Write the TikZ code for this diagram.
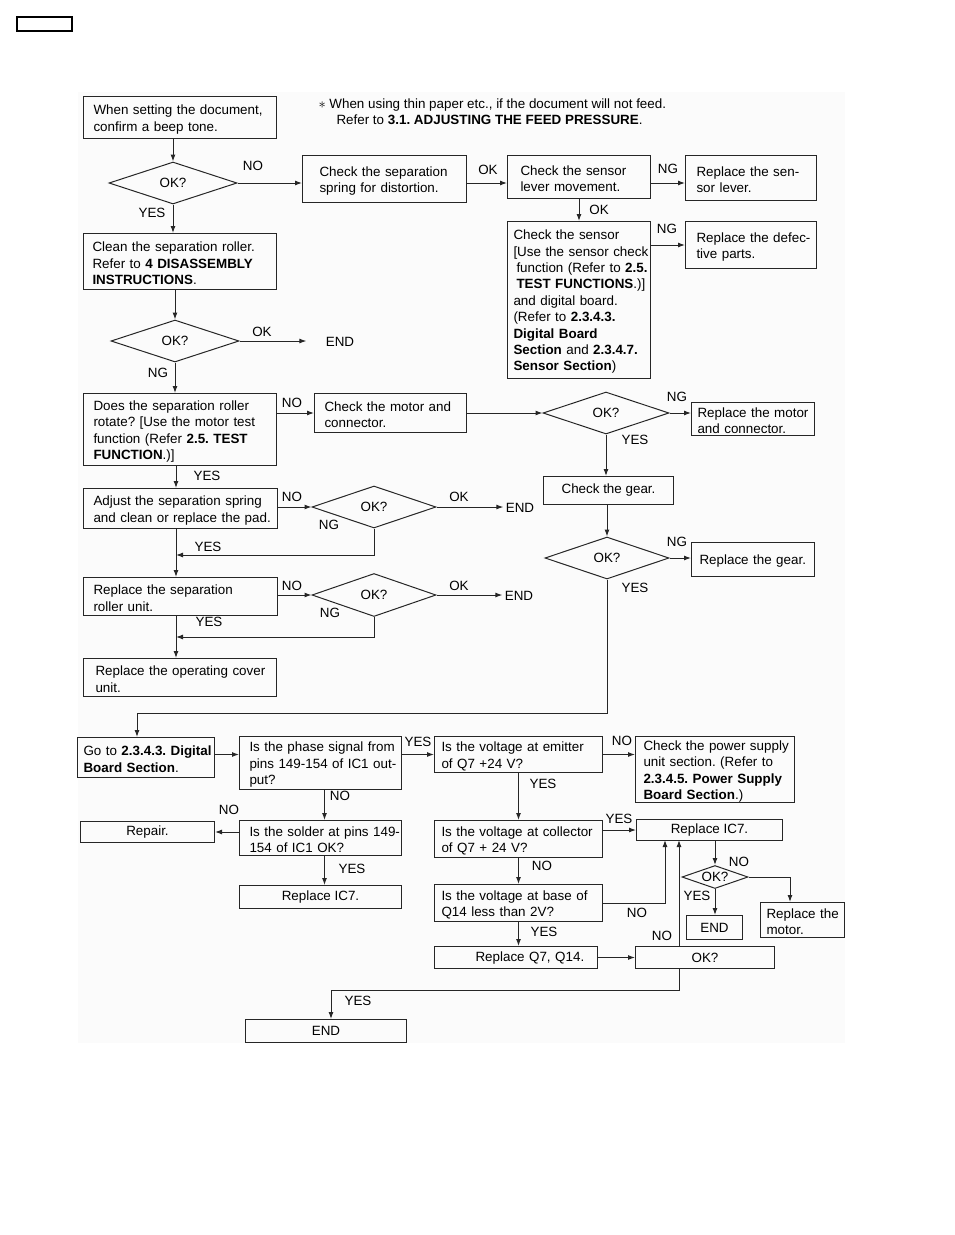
\documentclass[tikz,border=0pt]{standalone}
\usepackage{fontspec}
\setmainfont{Liberation Sans}
\usetikzlibrary{arrows.meta,calc,positioning,shapes.geometric}
\newcommand{\fs}{\fontsize{13.4}{16.4}\selectfont}
\frenchspacing
\tikzset{%
	proc/.style     = {draw=black!85, rectangle, anchor=north west, align=left, inner xsep=0pt, inner ysep=0pt, text height=13.5pt, execute at begin node={\leftskip=#1\rightskip=0pt plus 1fil\relax}},
	proc/.default   = 10pt,
	ctr/.style      = {draw=black!85, rectangle, anchor=north west, align=center, inner sep=0pt},
	decision/.style = {draw=black!85, diamond, aspect=3, inner sep=0pt},
	arrow/.style    = {draw=black!85, -{Latex[length=7pt,width=5pt]}},
	lab/.style      = {inner sep=0pt},
}

\begin{document}
\begin{tikzpicture}[x=1pt,y=-1pt,line width=1pt,every node/.style={font=\fs}]
	\useasboundingbox (0,0) rectangle (954,1235);
	\fill[black!1.5] (78,92) rectangle (845,1043);
	\draw[line width=1.3pt] (17,17) rectangle (72,31);
	\node[lab,anchor=base west] (note1) at (318,108) {$\ast$ When using thin paper etc., if the document will not feed.};
	\node[lab,anchor=base west] (note2) at (336,124) {Refer to \textbf{3.1. ADJUSTING THE FEED PRESSURE}.};

	% upper part
	\node[proc=10pt, text width=193pt, minimum height=42pt] (beep) at (83,96) {When setting the document,\\confirm a beep tone.};
	\node[decision, minimum width=128pt, minimum height=42pt] (ok1) at (173,183) {OK?};
	\node[proc=17pt, text width=164pt, minimum height=47pt] (spring) at (302,155) {Check the separation\\spring for distortion.};
	\node[proc=13pt, text width=143pt, minimum height=43pt] (lever) at (507,155) {Check the sensor\\lever movement.};
	\node[proc=11pt, text width=131pt, minimum height=45pt] (newlever) at (685,155) {Replace the sen-\\sor lever.};
	\node[proc=6pt, text width=143pt, minimum height=157pt] (sensor) at (507,221) {Check the sensor\\{}[Use the sensor check\\\hspace*{3pt}function (Refer to \textbf{2.5.}\\\hspace*{3pt}\textbf{TEST FUNCTIONS}.)]\\and digital board.\\(Refer to \textbf{2.3.4.3.}\\\textbf{Digital Board}\\\textbf{Section} and \textbf{2.3.4.7.}\\\textbf{Sensor Section})};
	\node[proc=11pt, text width=131pt, minimum height=47pt] (defect) at (685,221) {Replace the defec-\\tive parts.};
	\node[proc=9pt, text width=193pt, minimum height=56pt] (clean) at (83,233) {Clean the separation roller.\\Refer to \textbf{4 DISASSEMBLY}\\\textbf{INSTRUCTIONS}.};
	\node[decision, minimum width=128pt, minimum height=42pt] (ok2) at (175,341) {OK?};
	\node[lab] (end1) at (340,342) {END};
	\node[proc=10pt, text width=193pt, minimum height=72pt] (rotate) at (83,393) {Does the separation roller\\rotate? [Use the motor test\\function (Refer \textbf{2.5. TEST}\\\textbf{FUNCTION}.)]};
	\node[proc=10pt, text width=152pt, minimum height=39pt] (motor) at (314,393) {Check the motor and\\connector.};
	\node[decision, minimum width=126pt, minimum height=42pt] (ok3) at (606,413) {OK?};
	\node[proc=6pt, text width=123pt, minimum height=33pt] (newmotor) at (691,402) {Replace the motor\\and connector.};
	\node[ctr, minimum width=130pt, minimum height=28pt] (gear) at (543,476) {Check the gear.};
	\node[decision, minimum width=124pt, minimum height=42pt] (ok4) at (607,558) {OK?};
	\node[proc=8pt, text width=123pt, minimum height=34pt] (newgear) at (691,542) {Replace the gear.};
	\node[proc=10pt, text width=194pt, minimum height=40pt] (adjust) at (83,488) {Adjust the separation spring\\and clean or replace the pad.};
	\node[decision, minimum width=124pt, minimum height=42pt] (ok5) at (374,507) {OK?};
	\node[lab] (end2) at (520,508) {END};
	\node[proc=10pt, text width=194pt, minimum height=38pt] (roller) at (83,577) {Replace the separation\\roller unit.};
	\node[decision, minimum width=124pt, minimum height=43pt] (ok6) at (374,595) {OK?};
	\node[lab] (end3) at (519,596) {END};
	\node[proc=12pt, text width=193pt, minimum height=38pt] (cover) at (83,658) {Replace the operating cover\\unit.};

	% lower part
	\node[proc=6pt, text width=137pt, minimum height=40pt] (digital) at (77,737) {Go to \textbf{2.3.4.3. Digital}\\\textbf{Board Section}.};
	\node[proc=10pt, text width=162pt, minimum height=53pt] (phase) at (239,736) {Is the phase signal from\\pins 149-154 of IC1 out-\\put?};
	\node[proc=10pt, text width=162pt, minimum height=35pt] (solder) at (239,820) {Is the solder at pins 149-\\154 of IC1 OK?};
	\node[ctr, minimum width=162pt, minimum height=23pt] (ic7a) at (239,885) {Replace IC7.};
	\node[ctr, minimum width=134pt, minimum height=21pt] (repair) at (80,821) {Repair.};
	\node[proc=7pt, text width=168pt, minimum height=36pt] (emitter) at (434,736) {Is the voltage at emitter\\of Q7 +24 V?};
	\node[proc=8pt, text width=159pt, minimum height=66pt] (power) at (635,736) {Check the power supply\\unit section. (Refer to\\\textbf{2.3.4.5. Power Supply}\\\textbf{Board Section}.)};
	\node[proc=7pt, text width=168pt, minimum height=37pt] (collector) at (434,820) {Is the voltage at collector\\of Q7 + 24 V?};
	\node[ctr, minimum width=146pt, minimum height=21pt] (ic7b) at (636,819) {Replace IC7.};
	\node[proc=7pt, text width=168pt, minimum height=37pt] (base) at (434,884) {Is the voltage at base of\\Q14 less than 2V?};
	\node[proc=41pt, text width=163pt, minimum height=22pt, text height=10pt] (q7) at (434,946) {Replace Q7, Q14.};
	\node[ctr, minimum width=139pt, minimum height=22pt] (okq) at (635,946) {OK?};
	\node[decision, minimum width=66pt, minimum height=23pt] (ok7) at (715,877) {OK?};
	\node[ctr, minimum width=56pt, minimum height=24pt] (end4) at (686,915) {END};
	\node[proc=6pt, text width=84pt, minimum height=35pt] (newmotor2) at (760,902) {Replace the\\motor.};
	\node[ctr, minimum width=161pt, minimum height=23pt] (end5) at (245,1019) {END};

	\coordinate (jog1) at (137,713);
	\coordinate (back1) at (176,555);
	\coordinate (back2) at (176,637);
	\coordinate (vin1) at (665,840);
	\coordinate (vin2) at (679,840);
	\coordinate (zin) at (790,902);
	\coordinate (jog2) at (331,990);

	% connectors, upper part
	\draw[arrow] (ok1.north |- beep.south) -- (ok1.north);
	\draw[arrow] (ok1.east) -- (ok1.east -| spring.west);
	\draw[arrow] (spring.east |- ok1.east) -- (lever.west |- ok1.east);
	\draw[arrow] (lever.east |- ok1.east) -- (newlever.west |- ok1.east);
	\draw[arrow] (lever.south) -- (sensor.north);
	\draw[arrow] (sensor.east |- defect.west) -- (defect.west);
	\draw[arrow] (ok1.south) -- (ok1.south |- clean.north);
	\draw[arrow] (ok2.north |- clean.south) -- (ok2.north);
	\draw[arrow,shorten >=19pt] (ok2.east) -- (end1.west |- ok2.east);
	\draw[arrow] (ok2.south) -- (ok2.south |- rotate.north);
	\draw[arrow] (rotate.east |- motor.west) -- (motor.west);
	\draw[arrow] (motor.east |- ok3.west) -- (ok3.west);
	\draw[arrow] (ok3.east) -- (ok3.east -| newmotor.west);
	\draw[arrow] (ok3.south) -- (ok3.south |- gear.north);
	\draw[arrow] (ok4.north |- gear.south) -- (ok4.north);
	\draw[arrow] (ok4.east) -- (ok4.east -| newgear.west);
	\draw[arrow] (ok4.south) |- (jog1) -- (jog1 |- digital.north);
	\draw[arrow] (back1 |- rotate.south) -- (back1 |- adjust.north);
	\draw[arrow] (adjust.east |- ok5.west) -- (ok5.west);
	\draw[arrow,shorten >=2pt] (ok5.east) -- (end2.west |- ok5.east);
	\draw[arrow] (ok5.south) |- (back1);
	\draw[arrow] (back1 |- adjust.south) -- (back1 |- roller.north);
	\draw[arrow] (roller.east |- ok6.west) -- (ok6.west);
	\draw[arrow,shorten >=2pt] (ok6.east) -- (end3.west |- ok6.east);
	\draw[arrow] (ok6.south) |- (back2);
	\draw[arrow] (back2 |- roller.south) -- (back2 |- cover.north);

	% connectors, lower part
	\draw[arrow] (digital.east |- emitter.west) -- (phase.west |- emitter.west);
	\draw[arrow] (phase.east |- emitter.west) -- (emitter.west);
	\draw[arrow] (emitter.east) -- (emitter.east -| power.west);
	\draw[arrow] (emitter.south) -- (emitter.south |- collector.north);
	\draw[arrow] (collector.east |- ic7b.west) -- (ic7b.west);
	\draw[arrow] (collector.south) -- (base.north);
	\draw[arrow] (base.east) -| (vin1);
	\draw[arrow] (base.south) -- (base.south |- q7.north);
	\draw[arrow] (q7.east |- okq.west) -- (okq.west);
	\draw[arrow] (vin2 |- okq.north) -- (vin2);
	\draw[arrow] (ok7.north |- ic7b.south) -- (ok7.north);
	\draw[arrow] (ok7.east) -| (zin);
	\draw[arrow] (ok7.south) -- (ok7.south |- end4.north);
	\draw[arrow] (vin2 |- okq.south) |- (jog2) -- (jog2 |- end5.north);
	\draw[arrow] ([xshift=4pt]phase.south) -- ([xshift=4pt]solder.north);
	\draw[arrow] (solder.west |- repair.east) -- (repair.east);
	\draw[arrow] ([xshift=4pt]solder.south) -- ([xshift=4pt]ic7a.north);

	% branch labels
	\foreach \t/\x/\y [count=\i] in {NO/253/166, YES/152/213, OK/488/170, NG/668/169, OK/599/210, NG/667/229,
		OK/262/332, NG/158/373, NO/292/403, NG/677/397, YES/635/440, NG/677/542, YES/635/588,
		YES/207/476, NO/292/497, OK/459/497, NG/329/525, YES/208/547, NO/292/586, OK/459/586,
		NG/330/613, YES/209/622, YES/418/742, NO/622/741, YES/543/784, YES/619/819, NO/542/866,
		NO/637/913, YES/544/932, NO/662/936, NO/739/862, YES/697/896, YES/358/1001, NO/229/810,
		NO/340/796, YES/352/869}
		\node[lab] (lab\i) at (\x,\y) {\t};
\end{tikzpicture}
\end{document}
